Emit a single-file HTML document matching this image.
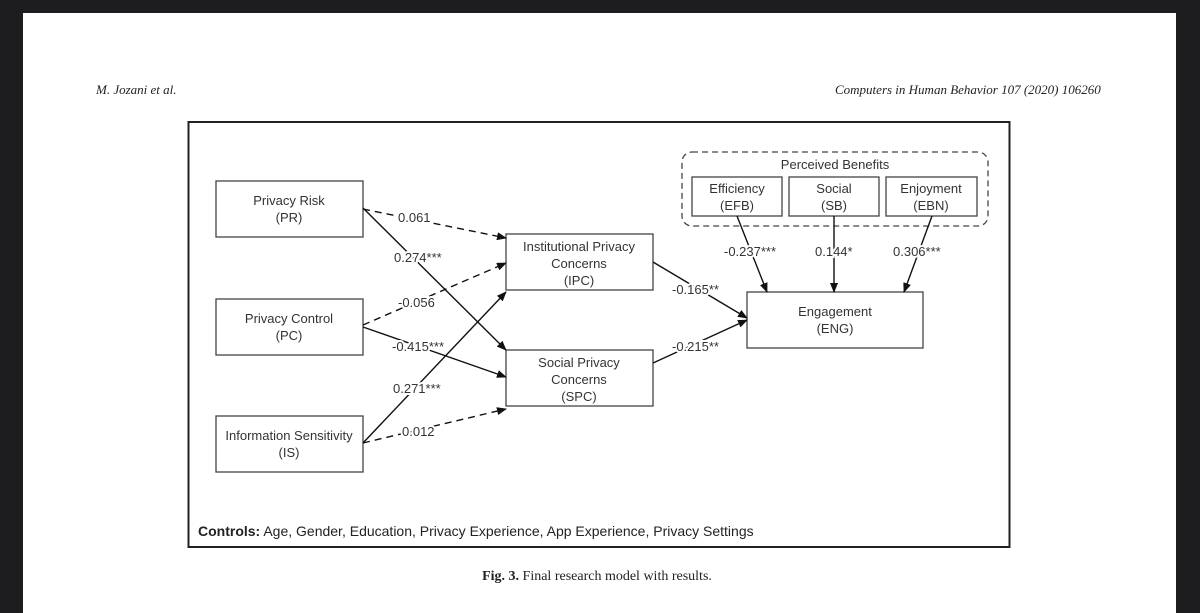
<!DOCTYPE html>
<html><head><style>
body{margin:0;width:1200px;height:593px;background:#1d1d1f;position:relative;overflow:hidden}
.page{position:absolute;left:23px;top:13px;width:1153px;height:600px;background:#fff}
.h{position:absolute;font-family:"Liberation Serif",serif;font-style:italic;font-size:13px;color:#222}
svg{position:absolute;left:0;top:0}
svg text{font-family:"Liberation Sans",sans-serif;font-size:13px;fill:#333}
</style></head><body>
<div class="page"></div>
<div class="h" style="left:96px;top:82px">M. Jozani et al.</div>
<div class="h" style="left:835px;top:82px">Computers in Human Behavior 107 (2020) 106260</div>
<svg width="1200" height="593">
<defs><marker id="a" markerWidth="10" markerHeight="8" refX="9" refY="4" orient="auto" markerUnits="userSpaceOnUse"><path d="M0,0 L10,4 L0,8z" fill="#111"/></marker></defs>
<rect x="188.5" y="122" width="821" height="425" fill="none" stroke="#222" stroke-width="2"/>
<g fill="#fff" stroke="#444" stroke-width="1.3">
<rect x="216" y="181" width="147" height="56"/>
<rect x="216" y="299" width="147" height="56"/>
<rect x="216" y="416" width="147" height="56"/>
<rect x="506" y="234" width="147" height="56"/>
<rect x="506" y="350" width="147" height="56"/>
<rect x="747" y="292" width="176" height="56"/>
<rect x="682" y="152" width="306" height="74" rx="10" stroke-dasharray="6,4"/>
<rect x="692" y="177" width="90" height="39"/>
<rect x="789" y="177" width="90" height="39"/>
<rect x="886" y="177" width="91" height="39"/>
</g>
<g stroke="#111" stroke-width="1.4" fill="none" marker-end="url(#a)">
<path d="M363,209 L506,238" stroke-dasharray="7,5"/>
<path d="M363,208 L506,350"/>
<path d="M363,325 L506,263" stroke-dasharray="7,5"/>
<path d="M363,327 L506,377"/>
<path d="M363,443 L506,292"/>
<path d="M363,443 L506,409" stroke-dasharray="7,5"/>
<path d="M653,262 L747,318"/>
<path d="M653,363 L747,320"/>
<path d="M737,216 L767,292"/>
<path d="M834,216 L834,292"/>
<path d="M932,216 L904,292"/>
</g>
<g text-anchor="middle">
<text x="289" y="205">Privacy Risk</text><text x="289" y="222">(PR)</text>
<text x="289" y="323">Privacy Control</text><text x="289" y="340">(PC)</text>
<text x="289" y="440">Information Sensitivity</text><text x="289" y="457">(IS)</text>
<text x="579" y="251">Institutional Privacy</text><text x="579" y="268">Concerns</text><text x="579" y="285">(IPC)</text>
<text x="579" y="367">Social Privacy</text><text x="579" y="384">Concerns</text><text x="579" y="401">(SPC)</text>
<text x="835" y="316">Engagement</text><text x="835" y="333">(ENG)</text>
<text x="835" y="169">Perceived Benefits</text>
<text x="737" y="193">Efficiency</text><text x="737" y="210">(EFB)</text>
<text x="834" y="193">Social</text><text x="834" y="210">(SB)</text>
<text x="931" y="193">Enjoyment</text><text x="931" y="210">(EBN)</text>
</g>
<g style="font-size:11.5px" paint-order="stroke" stroke="#fff" stroke-width="4">
<text x="398" y="222">0.061</text>
<text x="394" y="262">0.274***</text>
<text x="398" y="307">-0.056</text>
<text x="392" y="351">-0.415***</text>
<text x="393" y="393">0.271***</text>
<text x="402" y="436">0.012</text>
<text x="672" y="294">-0.165**</text>
<text x="672" y="351">-0.215**</text>
<text x="724" y="256">-0.237***</text>
<text x="815" y="256">0.144*</text>
<text x="893" y="256">0.306***</text>
</g>
<text x="198" y="536" style="font-size:14px;fill:#222"><tspan font-weight="bold">Controls:</tspan> Age, Gender, Education, Privacy Experience, App Experience, Privacy Settings</text>
<text x="597" y="580" text-anchor="middle" style="font-family:'Liberation Serif',serif;font-size:14px;fill:#222"><tspan font-weight="bold">Fig. 3.</tspan> Final research model with results.</text>
</svg>
</body></html>
